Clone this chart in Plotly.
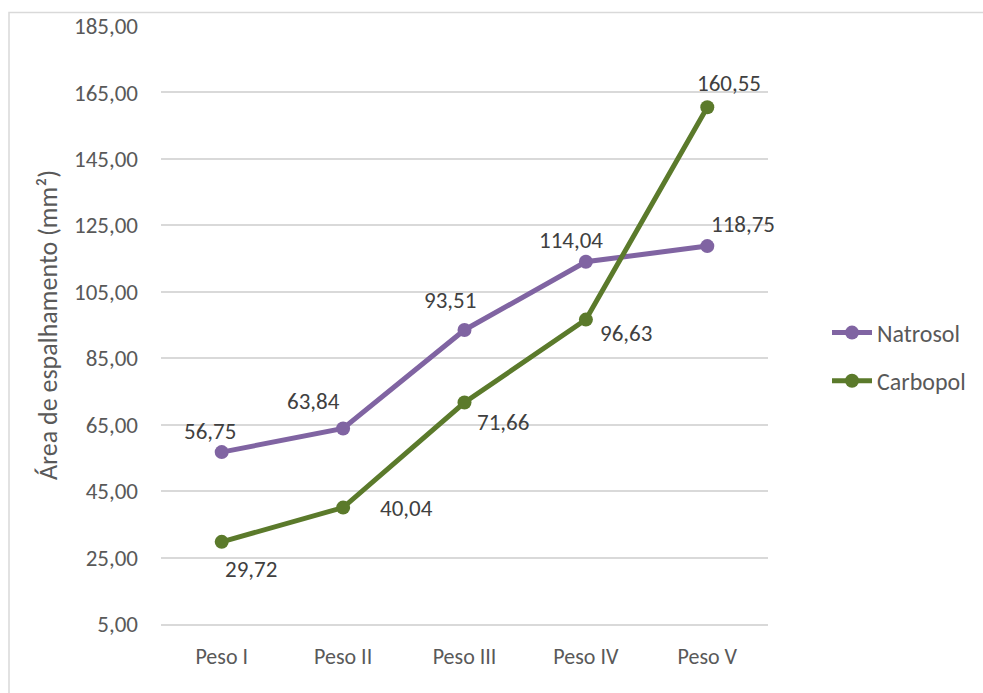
import plotly.graph_objects as go

categories = ["Peso I", "Peso II", "Peso III", "Peso IV", "Peso V"]
natrosol = [56.75, 63.84, 93.51, 114.04, 118.75]
carbopol = [29.72, 40.04, 71.66, 96.63, 160.55]
y_ticks = [5, 25, 45, 65, 85, 105, 125, 145, 165, 185]

# label offsets (pixels) for data labels
nat_off = [(-12, 21), (-30, 28), (-15, 30), (-15, 22), (36, 22)]
carb_off = [(29, -27), (63, 0), (38, -19), (40, -13), (22, 24)]

FONT = "Carlito, Calibri, Lato, sans-serif"
PURPLE = "#8064A2"
GREEN = "#5B7A2B"

def fmt(v):
    return f"{v:.2f}".replace(".", ",")

fig = go.Figure()
fig.add_trace(go.Scatter(
    x=categories, y=natrosol, name="Natrosol", mode="lines+markers",
    line=dict(color=PURPLE, width=5), marker=dict(size=14, color=PURPLE),
    legendgroup="a"))
fig.add_trace(go.Scatter(
    x=categories, y=carbopol, name="Carbopol", mode="lines+markers",
    line=dict(color=GREEN, width=5), marker=dict(size=14, color=GREEN),
    legendgroup="b"))

annotations = []
for series, offs in ((natrosol, nat_off), (carbopol, carb_off)):
    for c, v, (dx, dy) in zip(categories, series, offs):
        annotations.append(dict(
            x=c, y=v, xref="x", yref="y", text=fmt(v), showarrow=False,
            xshift=dx, yshift=dy, font=dict(family=FONT, size=23, color="#404040")))

L, R, T, B = 161, 768, 26, 624
W, H = 983, 693
pw, ph = R - L, B - T

fig.update_layout(
    width=W, height=H,
    margin=dict(l=L, r=W - R, t=T, b=H - B),
    paper_bgcolor="white", plot_bgcolor="white",
    font=dict(family=FONT, color="#595959", size=22),
    showlegend=True,
    legend=dict(x=(827 - L) / pw, y=(B - 357) / ph, xanchor="left", yanchor="middle",
                font=dict(family=FONT, size=24, color="#595959"),
                tracegroupgap=14, itemwidth=40),
    xaxis=dict(type="category", range=[-0.5, 4.5], showgrid=False,
               showline=True, linecolor="#D9D9D9", linewidth=2,
               ticks="", tickfont=dict(size=22, color="#595959"),
               ticklabelstandoff=12),
    yaxis=dict(range=[5, 185], tickvals=y_ticks,
               ticktext=[fmt(v) for v in y_ticks],
               showgrid=True, gridcolor="#D9D9D9", gridwidth=1.5,
               zeroline=False, showline=False, ticks="",
               tickfont=dict(size=23, color="#595959"),
               ticklabelstandoff=22,
               title=dict(text="Área de espalhamento (mm²)", standoff=8,
                          font=dict(size=26, color="#595959"))),
    annotations=annotations,
    shapes=[dict(type="rect", xref="paper", yref="paper",
                 x0=(9 - L) / pw, x1=(985 - L) / pw,
                 y0=(B - 700) / ph, y1=(B - 12.5) / ph,
                 line=dict(color="#D9D9D9", width=1.5), layer="below")],
)

fig.write_html("out.html")
